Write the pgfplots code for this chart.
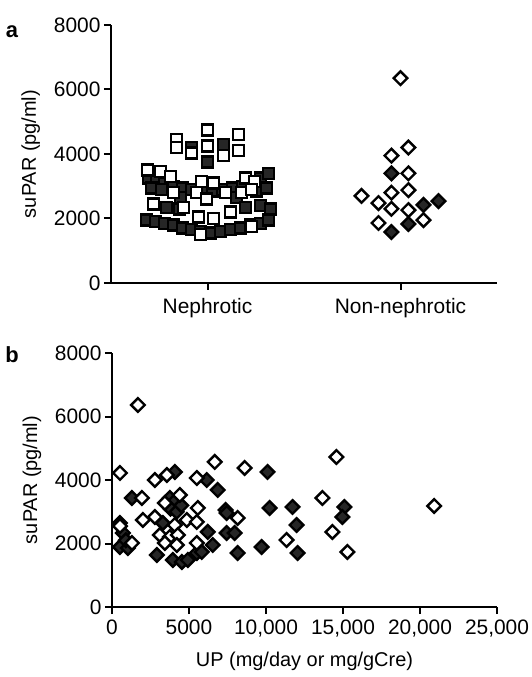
\documentclass[border=0pt]{standalone}
\usepackage{fontspec}
\setmainfont{Liberation Sans}
\usepackage{pgfplots}
\pgfplotsset{compat=1.18}
\begin{document}
\begin{tikzpicture}
\useasboundingbox (0,0) rectangle (532bp,677bp);
\pgfplotsset{
  common/.style={
    scale only axis, clip=false,
    axis lines=left, axis line style={-, line width=2bp},
    every tick/.style={line width=2bp, black}, major tick length=7bp, tick align=outside,
    ymin=0, ymax=8000, ytick={0,2000,4000,6000,8000},
    scaled ticks=false,
    /pgf/number format/assume math mode=true,
    /pgf/number format/1000 sep={},
    yticklabel style={font=\fontsize{21}{24}\selectfont},
    xticklabel style={font=\fontsize{21}{24}\selectfont},
    ylabel={suPAR (pg/ml)},
    every axis y label/.style={at={(axis description cs:-0.208,0.5)}, rotate=90, anchor=center, font=\fontsize{20}{24}\selectfont},
  },
  openm/.style={only marks, mark=square*, mark size=5.5bp, mark options={fill=white, draw=black, line width=2.4bp}},
  fillm/.style={only marks, mark=square*, mark size=5.5bp, mark options={fill=black!85, draw=black, line width=2.4bp}},
  opend/.style={only marks, mark=square*, mark size=4.8bp, mark options={rotate=45, fill=white, draw=black, line width=2.4bp}},
  filld/.style={only marks, mark=square*, mark size=4.8bp, mark options={rotate=45, fill=black!85, draw=black, line width=2.4bp}},
}
\node[font=\fontsize{22}{24}\selectfont\bfseries] at (12bp,645bp) {a};
\node[font=\fontsize{22}{24}\selectfont\bfseries] at (12bp,322bp) {b};
\begin{axis}[common, at={(111bp,394bp)}, anchor=south west, width=386bp, height=258bp,
  xmin=0.5, xmax=2.5, xtick={1,2}, xticklabels={Nephrotic,Non-nephrotic},
  xticklabel style={yshift=-5bp}]
\addplot[fillm] coordinates {
(0.694,3250) (0.736,3150) (0.777,3100) (0.824,3000) (0.870,2950) (0.917,2900) (0.969,2850)
(1.026,2850) (1.078,2900) (1.130,2950) (1.181,3000) (1.233,3100) (1.275,3250) (1.316,3400)
(0.710,2950) (0.762,2900) (1.254,2850) (1.306,2950) (0.860,2650) (1.150,2650)
(0.788,2350) (0.855,2300) (1.197,2350) (1.275,2400) (1.326,2300)
(0.684,1950) (0.731,1900) (0.777,1850) (0.824,1800) (0.870,1700) (0.917,1650) (0.964,1600)
(1.016,1550) (1.067,1600) (1.119,1650) (1.171,1700) (1.223,1800) (1.275,1850) (1.316,1950)
(1.000,3750) (0.917,4200) (1.083,4300)
};
\addplot[openm] coordinates {
(0.839,4450) (0.839,4200) (0.917,4030) (1.000,4750) (1.000,4250) (1.083,3950) (1.161,4600) (1.161,4100)
(0.689,3500) (0.756,3450) (0.808,3300) (0.969,3150) (1.031,3100) (1.197,3250) (1.244,3150)
(0.824,2800) (0.943,2800) (0.995,2600) (1.093,2800) (1.176,2800) (1.228,2900)
(0.720,2450) (0.876,2350) (0.953,2050) (1.031,2000) (1.119,2200)
(0.964,1500) (1.228,1750)
};
\addplot[opend] coordinates {
(2.000,6350) (2.041,4200) (1.953,3950) (2.041,3400) (1.798,2700) (1.886,2480) (1.953,2800)
(2.041,2880) (1.953,2300) (2.041,2260) (1.886,1860) (2.119,1950)
};
\addplot[filld] coordinates {
(1.953,3400) (2.119,2420) (2.197,2540) (1.953,1580) (2.041,1830)
};
\end{axis}
\begin{axis}[common, at={(112bp,70bp)}, anchor=south west, width=385bp, height=254bp,
  xmin=0, xmax=25000, xtick={0,5000,10000,15000,20000,25000},
  xticklabels={0,5000,{10,000},{15,000},{20,000},{25,000}},
  xticklabel style={yshift=-2bp},
  xlabel={UP (mg/day or mg/gCre)},
  every axis x label/.style={at={(axis description cs:0.5,0)}, anchor=north, yshift=-42bp, font=\fontsize{20}{24}\selectfont}]
\addplot[filld] coordinates {
(4080,4253) (6153,4000) (6865,3686) (1295,3434) (3756,3434) (4000,3300) (3800,3100) (4200,3000)
(7383,3056) (3303,2646) (518,2646) (712,2331) (6218,2363) (518,1890) (1036,1859) (2915,1638)
(3951,1481) (4534,1418) (4923,1481) (5505,1701) (5829,1733) (6542,1953) (10100,4253) (15091,3150)
(14962,2835) (10233,3119) (11722,3150) (11982,2583) (9715,1890) (8161,1701) (12047,1701)
(7448,2961) (7448,2331) (7966,2331) (900,2100) (4500,3200)
};
\addplot[opend] coordinates {
(1684,6363) (518,4221) (6671,4568) (3562,4158) (2785,4000) (5505,4063) (1943,3434) (4404,3528)
(3433,3276) (5570,3119) (2008,2741) (2785,2835) (4080,2583) (4857,2741) (5505,2678) (3109,2268)
(3756,2205) (4275,2268) (1295,2016) (3433,2016) (4210,1953) (5505,2016) (8614,4379) (14573,4725)
(13666,3434) (14313,2363) (11334,2111) (15285,1733) (8161,2804) (20920,3182) (518,2550)
};
\end{axis}
\end{tikzpicture}
\end{document}
